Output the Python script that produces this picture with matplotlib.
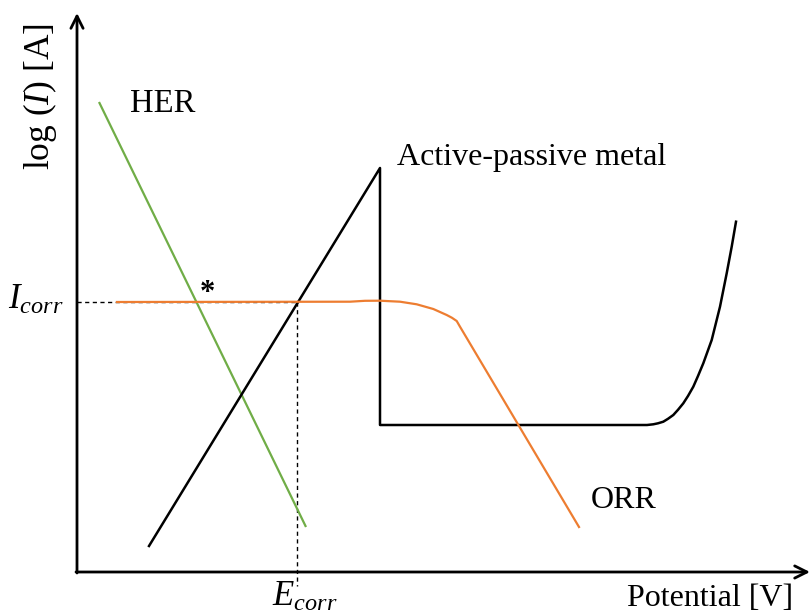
import matplotlib
matplotlib.use("Agg")
import matplotlib.pyplot as plt

plt.rcParams["font.family"] = ["Liberation Serif", "DejaVu Serif"]
plt.rcParams["mathtext.fontset"] = "custom"
plt.rcParams["mathtext.rm"] = "Liberation Serif"
plt.rcParams["mathtext.it"] = "Liberation Serif:italic"

# Schematic curves in drawing units (x to the right, y downward)
her_x = [99, 306]
her_y = [102, 527]

metal_x = [149, 380, 380, 640, 647, 653.3, 658, 663.3, 668, 673.3, 678, 683.3,
           688, 693.3, 698, 703.3, 711.7, 720, 726.7, 731.7, 736]
metal_y = [546, 168, 425, 425, 425, 424.3, 423.3, 421.7, 418.8, 415, 409.8, 403.3,
           396, 386.7, 376, 363.3, 340, 306.7, 273.3, 246.7, 221.7]

orr_x = [117, 350, 365, 380, 400, 416.7, 433.3, 446.7, 452, 456.7, 460, 579]
orr_y = [302, 301.7, 300.8, 300.7, 301.7, 304.3, 309, 315, 317.8, 321, 326.7, 527]

i_corr = 302
e_corr = 297
origin = (77, 572)

fig = plt.figure(figsize=(8.11, 6.15), dpi=100)
ax = fig.add_axes([0, 0, 1, 1])
ax.set_xlim(0, 811)
ax.set_ylim(615, 0)
ax.axis("off")

# axes with open arrowheads
ax.annotate("", xy=(origin[0], 13), xytext=(origin[0], origin[1] + 1),
            arrowprops=dict(arrowstyle="->", lw=2.0, color="black",
                            mutation_scale=22, shrinkA=0, shrinkB=0))
ax.annotate("", xy=(810, origin[1]), xytext=(origin[0] - 1, origin[1]),
            arrowprops=dict(arrowstyle="->", lw=2.0, color="black",
                            mutation_scale=22, shrinkA=0, shrinkB=0))

# corrosion point guides
ax.plot([origin[0], e_corr], [i_corr, i_corr], ls=(0, (3, 2.5)), color="black", lw=1.0)
ax.plot([e_corr, e_corr], [i_corr, 586], ls=(0, (3, 2.5)), color="black", lw=1.0)

ax.plot(her_x, her_y, color="#70AD47", lw=1.6, solid_capstyle="butt")
ax.plot(metal_x, metal_y, color="black", lw=1.8, solid_joinstyle="round")
ax.plot(orr_x, orr_y, color="#ED7D31", lw=1.6, solid_joinstyle="round")

ax.text(207, 294, "*", fontsize=22, fontweight="bold", ha="center", va="center")

ax.text(130, 104, "HER", fontsize=23.5, ha="left", va="center")
ax.text(397, 158, "Active-passive metal", fontsize=23, ha="left", va="center")
ax.text(591, 500, "ORR", fontsize=23, ha="left", va="center")
ax.text(793, 599, "Potential [V]", fontsize=23, ha="right", va="center")
ax.text(40, 97, "log ($I$) [A]", fontsize=25.5, rotation=90, ha="center", va="center")
ax.text(36, 300, "$I_{corr}$", fontsize=25, ha="center", va="center")
ax.text(305, 597, "$E_{corr}$", fontsize=25, ha="center", va="center")

fig.savefig("out.png", dpi=100)
